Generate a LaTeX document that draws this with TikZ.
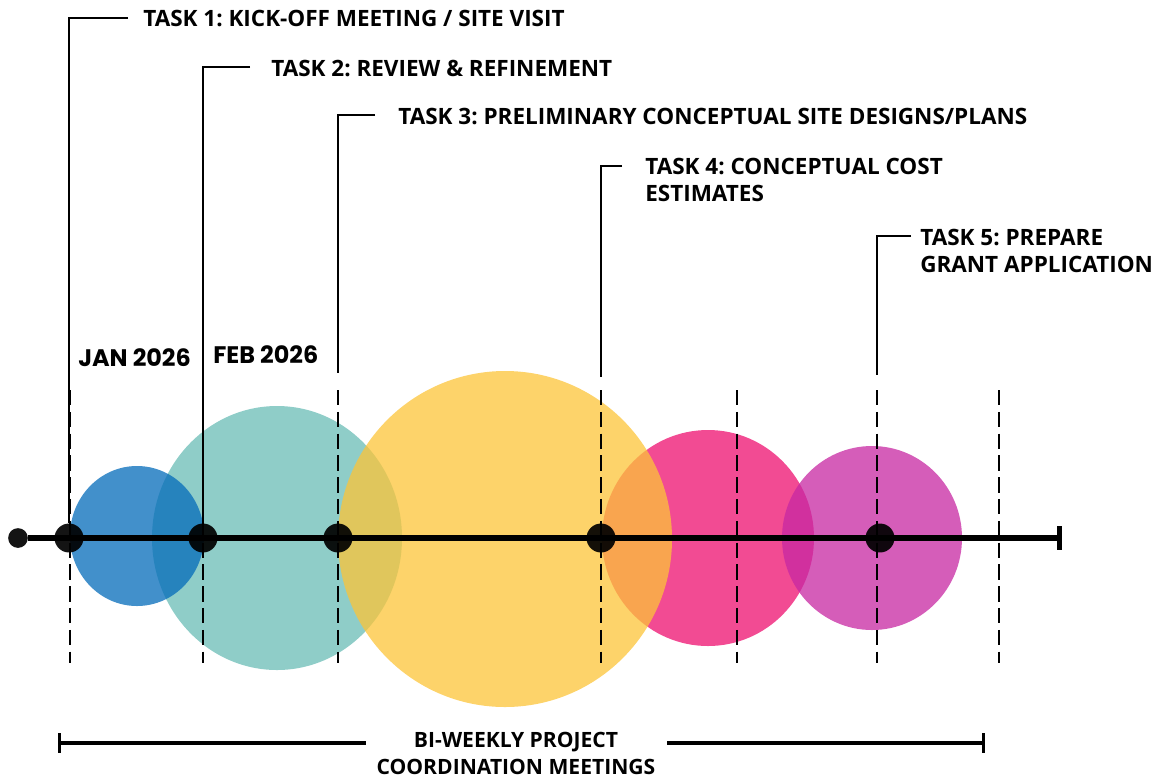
\documentclass[tikz,border=0pt]{standalone}
\usepackage{fontspec}
\setmainfont{Open Sans}
\newfontfamily\monthfont{Poppins}
\usetikzlibrary{arrows.meta}
\frenchspacing
\definecolor{tblue}{RGB}{3,107,186}
\definecolor{tteal}{RGB}{106,188,182}
\definecolor{tyellow}{RGB}{252,196,56}
\definecolor{tpink}{RGB}{238,15,111}
\definecolor{tpurple}{RGB}{199,39,162}
\begin{document}
\begin{tikzpicture}[x=0.025cm, y=-0.025cm,
  task/.style={font=\bfseries\fontsize{16pt}{19.2pt}\selectfont, anchor=north west, inner sep=0pt, align=left},
  month/.style={font=\monthfont\bfseries\fontsize{17pt}{20pt}\selectfont, anchor=base west, inner sep=0pt},
  dot/.style={circle, fill=black, fill opacity=0.92, inner sep=0pt, minimum size=20.6pt},
  gridline/.style={line width=1.4pt, dash pattern=on 11pt off 4.5pt},
  bracket/.style={line width=1.4pt},
  blob/.style={fill opacity=0.75}]
\useasboundingbox (0,0) rectangle (1157,779);
% bubbles
\fill[blob, tteal] (277,538) ellipse [x radius=125, y radius=132];
\fill[blob, tblue] (137,536) ellipse [x radius=67, y radius=70];
\fill[blob, tpink] (708,538) ellipse [x radius=106, y radius=108];
\fill[blob, tyellow] (505,539) ellipse [x radius=167, y radius=168];
\fill[blob, tpurple] (872,538) ellipse [x radius=90, y radius=92];
% month grid
\foreach \x in {70,203,338,601,737,877,999}
  \draw[gridline] (\x,390) -- (\x,663);
% timeline
\node[dot, minimum size=14pt] (start) at (18,538){};
\coordinate (stop) at (1062,538);
\draw[line width=3.8pt, -{Bar[width=17pt]}](start) -- (stop);
\node[dot] (d1) at (69,538){};
\node[dot] (d2) at (203,538){};
\node[dot] (d3) at (338,538){};
\node[dot] (d4) at (601,538){};
\node[dot] (d5) at (880,538){};
% tasks
\node[task] (task1) at (143,10){TASK 1: KICK-OFF MEETING / SITE VISIT};
\node[task] (task2) at (271,60){TASK 2: REVIEW \& REFINEMENT};
\node[task] (task3) at (398,108){TASK 3: PRELIMINARY CONCEPTUAL SITE DESIGNS/PLANS};
\node[task] (task4) at (645,158){TASK 4: CONCEPTUAL COST\\ESTIMATES};
\node[task] (task5) at (920,229){TASK 5: PREPARE\\GRANT APPLICATION};
\coordinate (k1) at (128,18);
\coordinate (k2) at (250,67);
\coordinate (k3) at (375,115);
\coordinate (k4) at (622,166);
\coordinate (k5) at (911,236);
\coordinate (e3) at (338,373);
\coordinate (e4) at (601,377);
\coordinate (e5) at (877,375);
\draw[bracket](k1) -| (d1);
\draw[bracket](k2) -| (d2);
\draw[bracket](k3) -| (e3);
\draw[bracket](k4) -| (e4);
\draw[bracket](k5) -| (e5);
% months
\node[month] (jan) at (78,366){JAN 2026};
\node[month] (feb) at (213,363){FEB 2026};
% meetings
\node[font=\bfseries\fontsize{15pt}{19.2pt}\selectfont, align=center, inner sep=0pt] (meet) at (516,753){BI-WEEKLY PROJECT\\COORDINATION MEETINGS};
\coordinate (m1) at (58,743);
\coordinate (m2) at (366,743);
\coordinate (m3) at (667,743);
\coordinate (m4) at (985,743);
\draw[line width=2.2pt, {Bar[width=14pt]}-](m1) -- (m2);
\draw[line width=2.2pt, -{Bar[width=14pt]}](m3) -- (m4);
\end{tikzpicture}
\end{document}
